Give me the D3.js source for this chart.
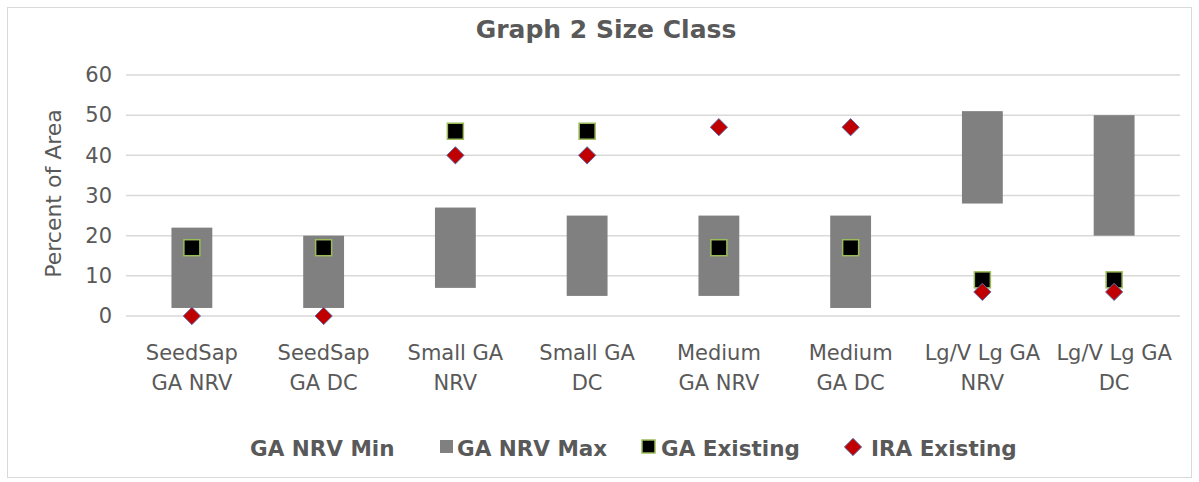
<!DOCTYPE html>
<html>
<head>
<meta charset="utf-8">
<script src="https://cdn.jsdelivr.net/npm/d3@7"></script>
<style>
  body { margin: 0; background: #fff; }
  text { font-family: "DejaVu Sans", sans-serif; fill: #595959; }
</style>
</head>
<body>
<svg id="chart" width="1199" height="482"></svg>
<script>
// ------------------------------------------------------------------
// data
// ------------------------------------------------------------------
var categories = [
  ["SeedSap", "GA NRV"], ["SeedSap", "GA DC"],
  ["Small GA", "NRV"], ["Small GA", "DC"],
  ["Medium", "GA NRV"], ["Medium", "GA DC"],
  ["Lg/V Lg GA", "NRV"], ["Lg/V Lg GA", "DC"]
];
var nrvMin = [2, 2, 7, 5, 5, 2, 28, 20];
var nrvMax = [22, 20, 27, 25, 25, 25, 51, 50];
var gaExisting = [17, 17, 46, 46, 17, 17, 9, 9];
var iraExisting = [0, 0, 40, 40, 47, 47, 6, 6];
var yTicks = [0, 10, 20, 30, 40, 50, 60];

// ------------------------------------------------------------------
// layout
// ------------------------------------------------------------------
var margin = {top: 75, right: 19, bottom: 166, left: 126};
var W = 1199, H = 482;
var width = W - margin.left - margin.right;
var height = H - margin.top - margin.bottom;

var svg = d3.select("#chart");

// chart border
svg.append("rect")
  .attr("x", 7.5).attr("y", 7.5)
  .attr("width", W - 15).attr("height", H - 12)
  .attr("fill", "none").attr("stroke", "#d9d9d9");

var g = svg.append("g")
  .attr("transform", "translate(" + margin.left + "," + margin.top + ")");

var x = d3.scaleBand().domain(d3.range(categories.length)).range([0, width]).paddingInner(0.69).paddingOuter(0.345);
var y = d3.scaleLinear().domain([0, 60]).range([height, 0]);

// gridlines
g.selectAll(".grid").data(yTicks).enter().append("line")
  .attr("x1", 0).attr("x2", width)
  .attr("y1", function(d) { return y(d); }).attr("y2", function(d) { return y(d); })
  .attr("stroke", "#d9d9d9").attr("stroke-width", 1.5);

// y axis labels
var yAxis = g.append("g").call(d3.axisLeft(y).tickValues(yTicks).tickSize(0).tickPadding(14));
yAxis.select(".domain").remove();
yAxis.selectAll("text").style("font-size", "21px").attr("fill", "#595959")
  .style("font-family", "'DejaVu Sans', sans-serif");

// axis title
svg.append("text")
  .attr("transform", "translate(61," + (margin.top + height / 2 - 2) + ") rotate(-90)")
  .attr("text-anchor", "middle")
  .style("font-size", "22px")
  .text("Percent of Area");

// chart title
svg.append("text")
  .attr("x", 606).attr("y", 38)
  .attr("text-anchor", "middle")
  .style("font-size", "25px").style("font-weight", "bold")
  .text("Graph 2 Size Class");

// floating bars (min -> max)
g.selectAll(".bar").data(nrvMax).enter().append("rect")
  .attr("x", function(d, i) { return x(i); })
  .attr("width", x.bandwidth())
  .attr("y", function(d) { return y(d); })
  .attr("height", function(d, i) { return y(nrvMin[i]) - y(d); })
  .attr("fill", "#808080");

var cx = function(i) { return x(i) + x.bandwidth() / 2; };

// GA existing squares
g.selectAll(".sq").data(gaExisting).enter().append("rect")
  .attr("x", function(d, i) { return cx(i) - 8; })
  .attr("y", function(d) { return y(d) - 8; })
  .attr("width", 16).attr("height", 16)
  .attr("fill", "#000").attr("stroke", "#9bbb59").attr("stroke-width", 1.5);

// IRA existing diamonds
var diamond = d3.symbol().type(d3.symbolDiamond2).size(190);
g.selectAll(".dm").data(iraExisting).enter().append("path")
  .attr("d", diamond)
  .attr("transform", function(d, i) { return "translate(" + cx(i) + "," + y(d) + ")"; })
  .attr("fill", "#c00000").attr("stroke", "#5b6fa8").attr("stroke-width", 1);

// x labels
var xl = g.selectAll(".xl").data(categories).enter().append("text")
  .attr("text-anchor", "middle")
  .attr("transform", function(d, i) { return "translate(" + cx(i) + "," + (height + 44) + ")"; })
  .style("font-size", "21px");
xl.append("tspan").attr("x", 0).attr("dy", 0).text(function(d) { return d[0]; });
xl.append("tspan").attr("x", 0).attr("dy", 30).text(function(d) { return d[1]; });

// legend
var leg = svg.append("g").style("font-size", "21.5px").style("font-weight", "bold");
leg.append("text").attr("x", 250).attr("y", 456).text("GA NRV Min");
leg.append("rect").attr("x", 440).attr("y", 440).attr("width", 13).attr("height", 13).attr("fill", "#808080");
leg.append("text").attr("x", 457).attr("y", 456).text("GA NRV Max");
leg.append("rect").attr("x", 642).attr("y", 440).attr("width", 13).attr("height", 13)
  .attr("fill", "#000").attr("stroke", "#9bbb59").attr("stroke-width", 1.5);
leg.append("text").attr("x", 661).attr("y", 456).text("GA Existing");
leg.append("path").attr("d", d3.symbol().type(d3.symbolDiamond2).size(190))
  .attr("transform", "translate(853,447)")
  .attr("fill", "#c00000").attr("stroke", "#5b6fa8").attr("stroke-width", 1);
leg.append("text").attr("x", 871).attr("y", 456).text("IRA Existing");
</script>
</body>
</html>
